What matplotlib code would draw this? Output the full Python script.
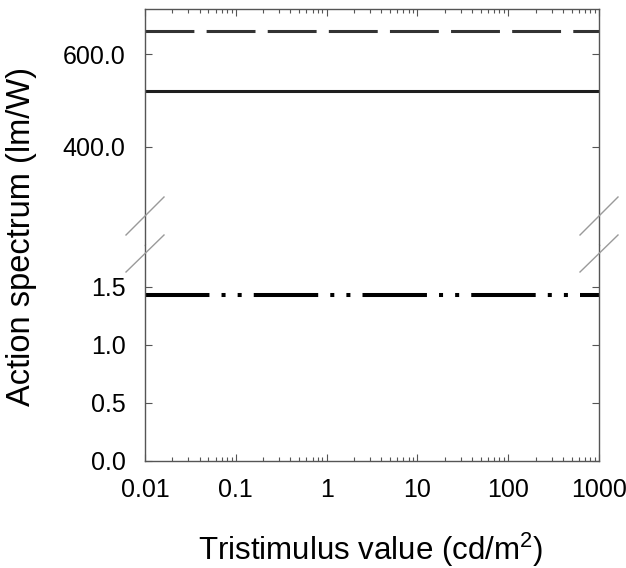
import numpy as np
import matplotlib
matplotlib.use("Agg")
from matplotlib import pyplot as plt
from matplotlib.lines import Line2D
from matplotlib.ticker import LogLocator, FixedLocator, NullFormatter

plt.rcParams['font.family'] = ['Liberation Sans', 'DejaVu Sans']
plt.rcParams['mathtext.default'] = 'regular'

# data
tristimulus = [0.01, 1000]
photopic = [520.0, 520.0]        # solid
upper_dashed = [650.0, 650.0]    # dashed gray
lower_ratio = [1.43, 1.43]       # dash-dot-dot

x_ticks = [0.01, 0.1, 1, 10, 100, 1000]
x_labels = ['0.01', '0.1', '1', '10', '100', '1000']
top_yticks = [400, 600]
bottom_yticks = [0.0, 0.5, 1.0, 1.5]

W, H = 626, 568
fig = plt.figure(figsize=(W / 100, H / 100), dpi=100)

left, right = 145 / W, 599 / W
y_top, y_break, y_bot = 1 - 9 / H, 1 - 245 / H, 1 - 461 / H

ax_top = fig.add_axes([left, y_break, right - left, y_top - y_break])
ax_bot = fig.add_axes([left, y_bot, right - left, y_break - y_bot])

spine_col = '#555555'
for ax in (ax_top, ax_bot):
    ax.set_xscale('log')
    ax.set_xlim(0.01, 1000)
    for s in ax.spines.values():
        s.set_color(spine_col)
        s.set_linewidth(1.0)
    ax.tick_params(which='both', direction='in', colors=spine_col,
                   labelcolor='black', labelsize=18, width=0.8)
    ax.tick_params(which='major', length=5)
    ax.tick_params(which='minor', length=3)
    ax.xaxis.set_major_locator(FixedLocator(x_ticks))
    ax.xaxis.set_minor_locator(LogLocator(base=10, subs=np.arange(2, 10)))
    ax.xaxis.set_minor_formatter(NullFormatter())

ax_top.spines['bottom'].set_visible(False)
ax_bot.spines['top'].set_visible(False)

# top panel (line widths in pt: 3 px ~ 2.16 pt)
ax_top.plot(tristimulus, upper_dashed, color='#333333', lw=2.2,
            dashes=(16, 4), dash_capstyle='butt', clip_on=False)
ax_top.plot(tristimulus, photopic, color='#1e1e1e', lw=2.2,
            solid_capstyle='butt', clip_on=False)
ax_top.set_ylim(187, 698)
ax_top.set_yticks(top_yticks)
ax_top.set_yticklabels(['%.1f' % v for v in top_yticks])
ax_top.tick_params(axis='x', which='both', top=True, bottom=False,
                   labelbottom=False)
ax_top.tick_params(axis='y', which='both', left=True, right=True, pad=14)

# bottom panel
ax_bot.plot(tristimulus, lower_ratio, color='black', lw=2.9,
            dashes=(16, 3, 1, 3, 1, 3), dash_capstyle='butt', clip_on=False)
ax_bot.set_ylim(0, 1.862)
ax_bot.set_yticks(bottom_yticks)
ax_bot.set_yticklabels(['%.1f' % v for v in bottom_yticks])
ax_bot.set_xticklabels(x_labels)
ax_bot.tick_params(axis='x', which='both', top=False, bottom=True, pad=12)
ax_bot.tick_params(axis='y', which='both', left=True, right=True, pad=14)

# axis break marks
def slash(x0, y0, x1, y1):
    fig.add_artist(Line2D([x0 / W, x1 / W], [1 - y0 / H, 1 - y1 / H],
                          transform=fig.transFigure, color='#9a9a9a', lw=1))

for xc in (126, 580):
    slash(xc, 235, xc + 38, 197)
    slash(xc, 272, xc + 38, 235)

fig.text(22 / W, 1 - 237 / H, 'Action spectrum (lm/W)', rotation=90,
         ha='center', va='center', fontsize=23.5)
fig.text(371 / W, 1 - 560 / H, 'Tristimulus value (cd/m$^2$)',
         ha='center', va='baseline', fontsize=22.5)

fig.savefig('out.png', dpi=100)
